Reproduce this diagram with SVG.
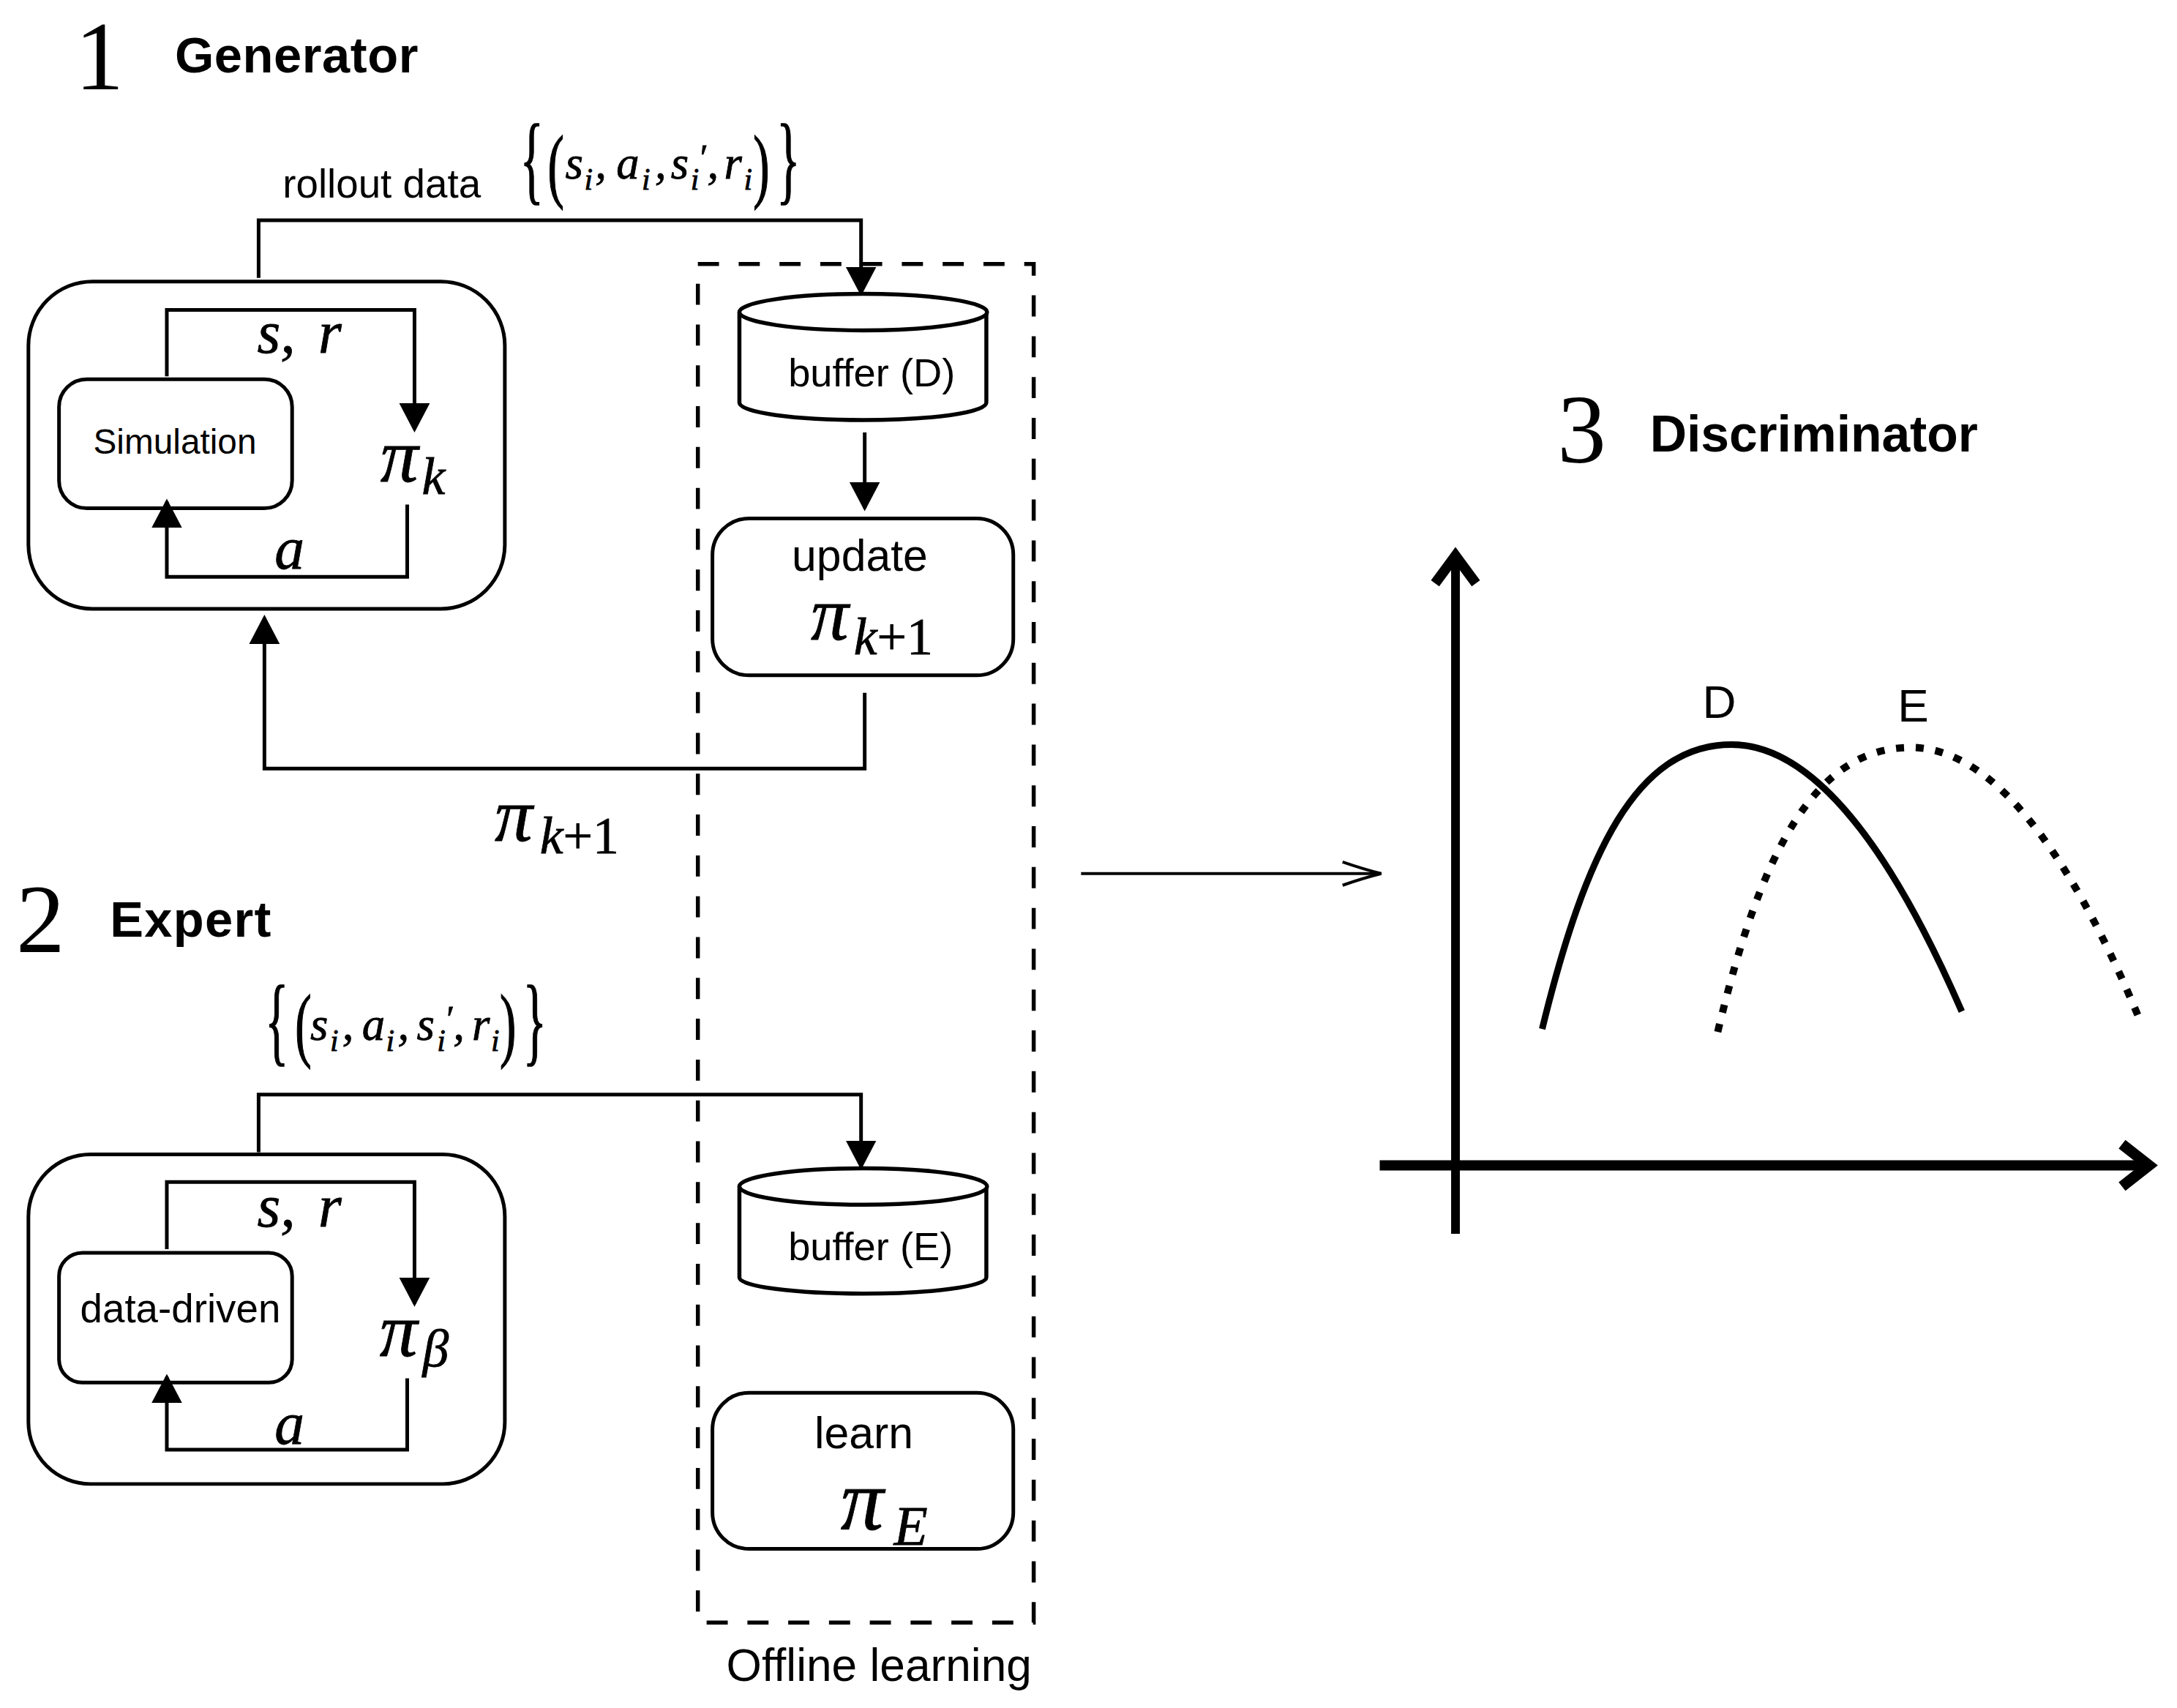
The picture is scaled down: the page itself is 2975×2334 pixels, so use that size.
<svg xmlns="http://www.w3.org/2000/svg" width="2975" height="2334" viewBox="0 0 2975 2334">
<style>
text{fill:#000;font-family:"Liberation Sans",Arial,sans-serif}
.b{font-weight:700}
.n{font-family:"Liberation Serif","Times New Roman",serif;font-size:134px}
.m{font-family:"Liberation Serif","Times New Roman",serif;font-style:italic;stroke:#000;stroke-width:.8}
.u{font-style:normal}
.r{font-family:"Liberation Serif","Times New Roman",serif;stroke:#000;stroke-width:1.6}
.ms{font-size:63px}.mi{font-size:42px}.pr{font-size:50px}
.pi{font-size:104px}.sub{font-size:72px}.v{font-size:82px}
.box{fill:none;stroke:#000;stroke-width:5}
.conn{fill:none;stroke:#000;stroke-width:5}
.cyl{fill:#fff;stroke:#000;stroke-width:5.5}
.thin{fill:none;stroke:#000;stroke-width:4}
.axis{fill:none;stroke:#000;stroke-linecap:butt}
</style>
<defs>
<marker id="tri" markerUnits="userSpaceOnUse" markerWidth="44" markerHeight="44" refX="36" refY="21" orient="auto"><path d="M0,0L40,21L0,42Z" fill="#000"/></marker>
</defs>
<rect width="2975" height="2334" fill="#fff"/>
<g id="diagram" transform="scale(.9955,.9965)">

<g id="title-1"><text class="n" x="103" y="122">1</text><text class="b" x="240" y="99" font-size="69" textLength="334">Generator</text></g>
<g id="rollout-label"><text x="388" y="271" font-size="55">rollout data</text>
<g id="set-1">
<text class="r" transform="translate(714,263) scale(.5,1)" font-size="134">{</text>
<text class="r" transform="translate(752,264) scale(.6,1)" font-size="112">(</text>
<text class="m"><tspan class="ms" x="776" y="245">s</tspan><tspan class="mi" x="802" y="260">i</tspan><tspan class="ms" x="817" y="245">,</tspan><tspan class="ms" x="846" y="245">a</tspan><tspan class="mi" x="881" y="260">i</tspan><tspan class="ms" x="899" y="245">,</tspan><tspan class="ms" x="921" y="245">s</tspan><tspan class="mi" x="948" y="260">i</tspan><tspan class="pr" x="958" y="233">′</tspan><tspan class="ms" x="971" y="245">,</tspan><tspan class="ms" x="994" y="245">r</tspan><tspan class="mi" x="1021" y="260">i</tspan></text>
<text class="r" transform="translate(1034,264) scale(.6,1)" font-size="112">)</text>
<text class="r" transform="translate(1066,263) scale(.5,1)" font-size="134">}</text>
</g></g>

<g id="generator">
<rect class="box" x="39" y="386" width="654" height="449" rx="88"/>
<g id="simulation"><rect class="box" x="81" y="520" width="320" height="177" rx="38"/><text x="128" y="622" font-size="48">Simulation</text></g>
<text class="m v"><tspan x="353" y="484">s,</tspan><tspan x="437" y="484">r</tspan></text>
<text class="m"><tspan class="pi" x="522" y="660">π</tspan><tspan class="sub" x="579" y="677">k</tspan></text>
<text class="m v" x="377" y="780">a</text>
</g>

<g id="offline-box"><rect x="958" y="362" width="461" height="1863" fill="none" stroke="#000" stroke-width="5.5" stroke-dasharray="29 27"/><text x="997" y="2305" font-size="62.5">Offline learning</text></g>

<g id="buffer-d"><path class="cyl" d="M1015,428V552C1015,566 1091,576 1185,576C1279,576 1354,566 1354,552V428"/><ellipse class="cyl" cx="1185" cy="428" rx="170" ry="25"/><text x="1082" y="530" font-size="54.5">buffer (D)</text></g>

<g id="update"><rect class="box" x="978" y="711" width="413" height="215" rx="50"/><text><tspan x="1087" y="783" font-size="61">update</tspan><tspan class="m pi" x="1113" y="877">π</tspan><tspan class="m sub" x="1172" y="897">k</tspan><tspan class="m u sub">+1</tspan></text></g>

<g id="pi-label"><text><tspan class="m pi" x="679" y="1153">π</tspan><tspan class="m sub" x="741" y="1170">k</tspan><tspan class="m u sub">+1</tspan></text></g>

<g id="title-2"><text class="n" x="22" y="1306">2</text><text class="b" x="151" y="1284" font-size="69" textLength="221">Expert</text></g>

<g id="set-2">
<text class="r" transform="translate(364,1444) scale(.5,1)" font-size="134">{</text>
<text class="r" transform="translate(405,1442) scale(.6,1)" font-size="112">(</text>
<text class="m"><tspan class="ms" x="426" y="1426">s</tspan><tspan class="mi" x="453" y="1441">i</tspan><tspan class="ms" x="470" y="1426">,</tspan><tspan class="ms" x="497" y="1426">a</tspan><tspan class="mi" x="530" y="1441">i</tspan><tspan class="ms" x="546" y="1426">,</tspan><tspan class="ms" x="572" y="1426">s</tspan><tspan class="mi" x="600" y="1441">i</tspan><tspan class="pr" x="610" y="1414">′</tspan><tspan class="ms" x="622" y="1426">,</tspan><tspan class="ms" x="648" y="1426">r</tspan><tspan class="mi" x="674" y="1441">i</tspan></text>
<text class="r" transform="translate(686,1442) scale(.6,1)" font-size="112">)</text>
<text class="r" transform="translate(718,1444) scale(.5,1)" font-size="134">}</text>
</g>

<g id="expert">
<rect class="box" x="39" y="1583" width="654" height="452" rx="85"/>
<g id="data-driven"><rect class="box" x="81" y="1718" width="320" height="178" rx="32"/><text x="110" y="1813" font-size="55">data-driven</text></g>
<text class="m v"><tspan x="353" y="1682">s,</tspan><tspan x="437" y="1682">r</tspan></text>
<text class="m"><tspan class="pi" x="521" y="1860">π</tspan><tspan class="sub" x="580" y="1874">β</tspan></text>
<text class="m v" x="377" y="1980">a</text>
</g>

<g id="buffer-e"><path class="cyl" d="M1015,1627V1752C1015,1764 1091,1774 1185,1774C1279,1774 1354,1764 1354,1752V1627"/><ellipse class="cyl" cx="1185" cy="1627" rx="170" ry="25"/><text x="1082" y="1728" font-size="54.5">buffer (E)</text></g>

<g id="learn"><rect class="box" x="978" y="1910" width="413" height="214" rx="50"/><text x="1118" y="1986" font-size="61">learn</text><text class="m"><tspan x="1154" y="2097" font-size="118">π</tspan><tspan x="1227" y="2118" font-size="76">E</tspan></text></g>

<g id="connectors">
<path class="conn" d="M355,381V302H1182V402" marker-end="url(#tri)"/>
<path class="conn" d="M229,516V425H569V589" marker-end="url(#tri)"/>
<path class="conn" d="M559,692V791H229V688" marker-end="url(#tri)"/>
<path class="conn" d="M1187,593V697" marker-end="url(#tri)"/>
<path class="conn" d="M1187,950V1054H363V847" marker-end="url(#tri)"/>
<path class="conn" d="M355,1580V1501H1182V1600" marker-end="url(#tri)"/>
<path class="conn" d="M229,1713V1621H569V1788" marker-end="url(#tri)"/>
<path class="conn" d="M559,1890V1988H229V1888" marker-end="url(#tri)"/>
<g id="to-discriminator"><path class="thin" d="M1484,1198H1896"/><path class="thin" d="M1843,1182Q1872,1192 1896,1198Q1872,1204 1843,1214"/></g>
</g>

<g id="title-3"><text class="n" x="2138" y="634">3</text><text class="b" x="2265" y="619" font-size="70" textLength="450">Discriminator</text></g>

<g id="plot">
<path class="axis" stroke-width="12" d="M1998,1692V770"/><path class="axis" stroke-width="14" d="M1970,800L1998,762L2026,800"/>
<path class="axis" stroke-width="14" d="M1894,1598H2945"/><path class="axis" stroke-width="15" d="M2913,1569L2950,1598L2913,1627"/>
<path class="axis" stroke-width="9" d="M2117,1411C2176,1170 2246,1021 2377,1021C2506,1021 2616,1210 2693,1387"/>
<path class="axis" stroke-width="10" stroke-dasharray="11 16" d="M2358,1415C2416,1172 2490,1025 2623,1025C2752,1025 2860,1214 2935,1393"/>
<text x="2337" y="984" font-size="64">D</text><text x="2605" y="989" font-size="64">E</text>
</g>
</g>
</svg>
